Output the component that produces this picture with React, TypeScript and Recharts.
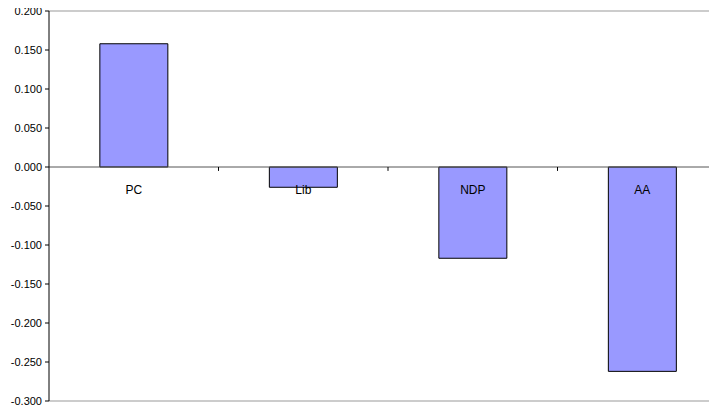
import React from 'react';
import { BarChart, Bar, XAxis, YAxis, ReferenceLine, LabelList } from 'recharts';

const parties = ['PC', 'Lib', 'NDP', 'AA'];
const changes = [0.158, -0.026, -0.117, -0.262];
const yTicks = [-0.3, -0.25, -0.2, -0.15, -0.1, -0.05, 0, 0.05, 0.1, 0.15, 0.2];
// category boundaries on an index scale (categories sit at 0..3)
const boundaryTicks = [0.5, 1.5, 2.5];

const data = parties.map((party, i) => ({ party, change: changes[i], idx: i }));

const font = '"Liberation Sans", Arial, sans-serif';

// category name sits just under the zero line, over the bar if needed
const PartyLabel = (props: any) => {
  const { x, y, width, height, value, index } = props;
  const v = changes[index];
  const zero = v >= 0 ? Math.max(y, y + height) : Math.min(y, y + height);
  return (
    <text
      x={x + width / 2}
      y={zero + 27}
      textAnchor="middle"
      fontSize={12}
      fontFamily={font}
      fill="#000"
    >
      {value}
    </text>
  );
};

const App: React.FC = () => {
  return (
    <div style={{ margin: '-8px 0 0 -8px', width: 717, height: 409, overflow: 'hidden' }}>
      <BarChart
        width={740}
        height={409}
        data={data}
        margin={{ top: 11, right: 13, left: 0, bottom: 8 }}
        barCategoryGap="30%"
      >
        <XAxis dataKey="party" hide />
        <XAxis
          xAxisId="n"
          dataKey="idx"
          type="number"
          domain={[-0.5, 3.5]}
          allowDataOverflow
          hide
        />
        <YAxis
          width={49}
          domain={[-0.3, 0.2]}
          ticks={yTicks}
          interval={0}
          tickFormatter={(v: number) => v.toFixed(3)}
          tick={{ fontSize: 11, fontFamily: font, fill: '#000' }}
          tickSize={4}
          tickMargin={3}
          axisLine={{ stroke: '#000' }}
          tickLine={{ stroke: '#000' }}
        />
        <ReferenceLine y={0.2} stroke="#999" />
        <ReferenceLine y={-0.3} stroke="#999" />
        <Bar dataKey="change" fill="#9999ff" stroke="#000" strokeWidth={1} isAnimationActive={false}>
          <LabelList dataKey="party" content={PartyLabel} />
        </Bar>
        <ReferenceLine y={0} stroke="#555" />
        {boundaryTicks.map((b) => (
          <ReferenceLine
            key={b}
            xAxisId="n"
            segment={[{ x: b, y: 0 }, { x: b, y: -0.005 }]}
            stroke="#000"
          />
        ))}
      </BarChart>
    </div>
  );
};

export default App;
